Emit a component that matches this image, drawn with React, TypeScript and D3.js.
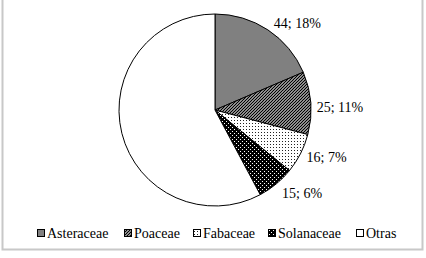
import { useEffect, useRef } from 'react';
import * as d3 from 'd3';

const families = ['Asteraceae', 'Poaceae', 'Fabaceae', 'Solanaceae', 'Otras'];
const counts = [44, 25, 16, 15, 137];
const labels = ['44; 18%', '25; 11%', '16; 7%', '15; 6%', ''];
const fills = ['#808080', 'url(#p-poa)', 'url(#p-fab)', 'url(#p-sol)', '#ffffff'];

const App = () => {
	const ref = useRef<SVGSVGElement>(null);

	useEffect(() => {
		const svg = d3.select(ref.current);
		svg.selectAll('*').remove();

		const width = 426,
			height = 258;
		const cx = 215,
			cy = 110,
			r = 96;
		const font = '"Liberation Serif", "Times New Roman", serif';

		// patterns
		const defs = svg.append('defs');
		const poa = defs
			.append('pattern')
			.attr('id', 'p-poa')
			.attr('patternUnits', 'userSpaceOnUse')
			.attr('width', 3)
			.attr('height', 3);
		poa.append('rect').attr('width', 3).attr('height', 3).attr('fill', '#fff');
		poa
			.append('path')
			.attr('d', 'M0,3 L3,0 M-1,1 L1,-1 M2,4 L4,2')
			.attr('stroke', '#000')
			.attr('stroke-width', 1.3);

		const fab = defs
			.append('pattern')
			.attr('id', 'p-fab')
			.attr('patternUnits', 'userSpaceOnUse')
			.attr('width', 3)
			.attr('height', 3);
		fab.append('rect').attr('width', 3).attr('height', 3).attr('fill', '#fff');
		fab.append('rect').attr('x', 1).attr('y', 1).attr('width', 1).attr('height', 1).attr('fill', '#222');

		const sol = defs
			.append('pattern')
			.attr('id', 'p-sol')
			.attr('patternUnits', 'userSpaceOnUse')
			.attr('width', 4)
			.attr('height', 4);
		sol.append('rect').attr('width', 4).attr('height', 4).attr('fill', '#000');
		sol.append('rect').attr('x', 1).attr('y', 1).attr('width', 1).attr('height', 1).attr('fill', '#fff');
		sol.append('rect').attr('x', 3).attr('y', 3).attr('width', 1).attr('height', 1).attr('fill', '#fff');

		// frame
		svg
			.append('path')
			.attr('d', `M2.5,0 V${height - 8.5} H${width - 3.5} V0`)
			.attr('fill', 'none')
			.attr('stroke', '#c8c8c8')
			.attr('stroke-width', 2);

		const pie = d3
			.pie<number>()
			.sort(null)
			.value((d) => d);
		const arcs = pie(counts);
		const arc = d3.arc<d3.PieArcDatum<number>>().innerRadius(0).outerRadius(r);

		const g = svg.append('g').attr('transform', `translate(${cx},${cy})`);
		g.selectAll('path.slice')
			.data(arcs)
			.join('path')
			.attr('class', 'slice')
			.attr('d', arc)
			.attr('fill', (d, i) => fills[i])
			.attr('stroke', '#000')
			.attr('stroke-width', 1)
			.attr('stroke-linejoin', 'round');

		// data labels, outside end of each slice
		const edge = (d: d3.PieArcDatum<number>) => {
			const a = (d.startAngle + d.endAngle) / 2;
			return [Math.sin(a) * r, -Math.cos(a) * r];
		};
		const labelDy = [-2, 9, 8, 14];
		g.selectAll('text.lab')
			.data(arcs.filter((d, i) => labels[i] !== ''))
			.join('text')
			.attr('class', 'lab')
			.attr('x', (d) => edge(d)[0] + 6)
			.attr('y', (d) => edge(d)[1] + labelDy[d.index])
			.style('font-family', font)
			.style('font-size', '14px')
			.text((d) => labels[d.index]);

		// legend
		const legendX = [37, 124, 193, 268, 356];
		const lg = svg.append('g').attr('transform', 'translate(0,233)');
		const items = lg
			.selectAll('g')
			.data(families)
			.join('g')
			.attr('transform', (d, i) => `translate(${legendX[i]},0)`);
		items
			.append('rect')
			.attr('x', 0.5)
			.attr('y', -3.5)
			.attr('width', 7)
			.attr('height', 7)
			.attr('fill', (d, i) => fills[i])
			.attr('stroke', '#000')
			.attr('stroke-width', 1);
		items
			.append('text')
			.attr('x', 10)
			.attr('y', 5)
			.style('font-family', font)
			.style('font-size', '14px')
			.text((d) => d);
	}, []);

	return (
		<svg
			ref={ref}
			width={426}
			height={258}
			style={{ position: 'absolute', left: 0, top: 0, background: '#fff' }}
		></svg>
	);
};

export default App;
